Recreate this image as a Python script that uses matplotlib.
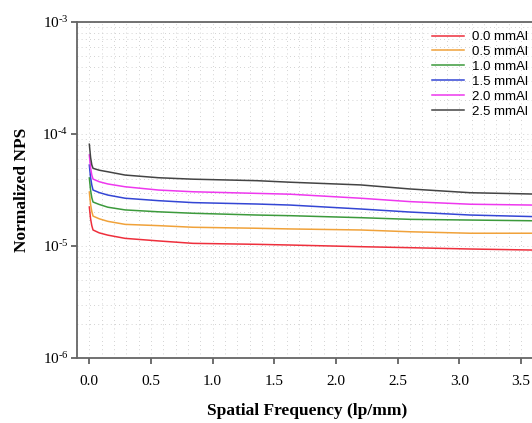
import numpy as np
import matplotlib
matplotlib.use('Agg')
import matplotlib.pyplot as plt
from matplotlib.ticker import LogLocator, MultipleLocator, FuncFormatter

plt.rcParams['font.family'] = 'Liberation Serif'
plt.rcParams['mathtext.fontset'] = 'custom'
plt.rcParams['mathtext.rm'] = 'Liberation Serif'
plt.rcParams['mathtext.it'] = 'Liberation Serif:italic'
plt.rcParams['mathtext.bf'] = 'Liberation Serif:bold'

# spatial frequency (lp/mm) and normalized NPS (x 1e-5) for each filtration
freq = [0.0, 0.01, 0.02, 0.03, 0.08, 0.15, 0.29, 0.56, 0.84, 1.36, 1.63, 2.2, 2.6, 3.09, 3.6]
nps_00 = [2.23, 1.75, 1.52, 1.39, 1.31, 1.25, 1.17, 1.11, 1.056, 1.035, 1.02, 0.986, 0.966, 0.94, 0.92]
nps_05 = [3.03, 2.35, 2.03, 1.85, 1.75, 1.66, 1.56, 1.52, 1.47, 1.44, 1.42, 1.39, 1.34, 1.30, 1.30]
nps_10 = [4.05, 3.15, 2.70, 2.47, 2.35, 2.22, 2.10, 2.02, 1.96, 1.89, 1.865, 1.79, 1.73, 1.705, 1.68]
nps_15 = [5.28, 4.10, 3.50, 3.16, 3.00, 2.85, 2.67, 2.54, 2.44, 2.37, 2.32, 2.14, 2.01, 1.89, 1.83]
nps_20 = [6.50, 5.00, 4.30, 3.96, 3.75, 3.58, 3.38, 3.16, 3.05, 2.95, 2.90, 2.67, 2.49, 2.36, 2.32]
nps_25 = [8.10, 6.20, 5.30, 4.94, 4.75, 4.60, 4.30, 4.07, 3.95, 3.83, 3.71, 3.51, 3.23, 2.99, 2.91]

labels = ['0.0 mmAl', '0.5 mmAl', '1.0 mmAl', '1.5 mmAl', '2.0 mmAl', '2.5 mmAl']
colors = ['#ee2f3c', '#f0a23a', '#3c9a3c', '#3446d4', '#ee38ee', '#444444']
series = [nps_00, nps_05, nps_10, nps_15, nps_20, nps_25]

fig = plt.figure(figsize=(5.32, 4.23), dpi=100)
ax = fig.add_axes([77/532, 1-358/423, (537-77)/532, (358-22)/423])

for s, c, l in zip(series, colors, labels):
    ax.plot(freq, np.array(s)*1e-5, color=c, lw=1.1, label=l)

def pow10(v, pos):
    e = int(round(np.log10(v)))
    return r'$10^{\text{-}%d}$' % abs(e)

ax.set_yscale('log')
ax.set_ylim(1e-6, 1e-3)
ax.set_xlim(-0.1, 3.63)
ax.xaxis.set_major_locator(MultipleLocator(0.5))
ax.xaxis.set_minor_locator(MultipleLocator(0.1))
ax.xaxis.set_major_formatter(matplotlib.ticker.FormatStrFormatter('%.1f'))
ax.yaxis.set_major_locator(LogLocator(base=10, numticks=10))
ax.yaxis.set_minor_locator(LogLocator(base=10, subs=np.arange(2, 10), numticks=20))
ax.yaxis.set_major_formatter(FuncFormatter(pow10))
ax.yaxis.set_minor_formatter(matplotlib.ticker.NullFormatter())

ax.grid(True, which='both', color='#c4c4c4', lw=0.6, linestyle=(0, (1, 4)))
ax.set_axisbelow(True)
ax.tick_params(which='major', direction='out', length=4, width=1.2, color='#555555',
               labelsize=11)
ax.tick_params(axis='x', pad=8)
ax.tick_params(axis='y', pad=2)
ax.tick_params(which='minor', length=0)
for sp in ax.spines.values():
    sp.set_color('#666666')
    sp.set_linewidth(1.3)

ax.set_xlabel('Spatial Frequency (lp/mm)', fontsize=12.5, fontweight='bold', labelpad=11)
ax.set_ylabel('Normalized NPS', fontsize=12.5, fontweight='bold', labelpad=9)

ax.legend(loc='upper right', bbox_to_anchor=(528/532, 1-31/423),
          bbox_transform=fig.transFigure, frameon=False,
          prop={'family': 'Liberation Sans', 'size': 9.5},
          handlelength=2.4, handletextpad=0.6, labelspacing=0.2,
          borderaxespad=0, borderpad=0)

fig.savefig('out.png', dpi=100)
